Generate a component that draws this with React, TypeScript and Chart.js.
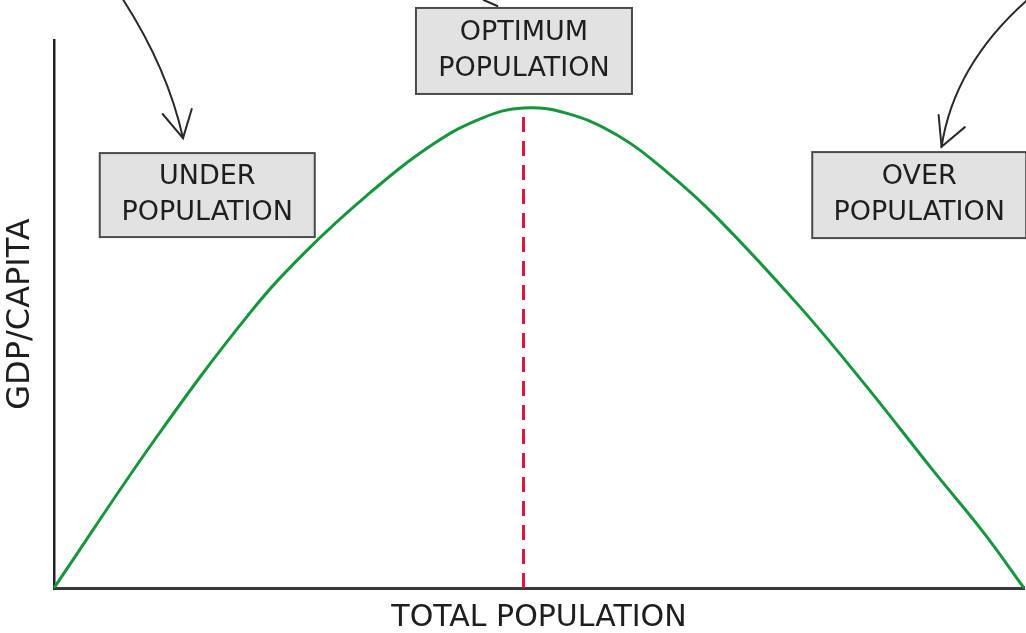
import React, { useEffect, useRef } from 'react';
import { Chart, registerables } from 'chart.js';

Chart.register(...registerables);

// Curve (x: total population, y: GDP per capita), 0-100 units
const popX = [0, 10.6, 20.2, 25.9, 32.3, 39.1, 44.2, 48.4, 52.9, 58.0, 63.2, 68.4, 76.9, 83.8, 90.6, 95.8, 100];
const gdpY = [0, 27.6, 50.2, 61.3, 71.7, 81.0, 85.8, 87.6, 86.6, 82.7, 75.9, 67.5, 51.3, 36.7, 21.5, 10.2, 0];

// Optimum marker
const optimumX = [48.4, 48.4];
const optimumY = [0, 87.6];

// Labels
const xTitle = 'TOTAL POPULATION';
const yTitle = 'GDP/CAPITA';
const boxLabels = [
  ['UNDER', 'POPULATION'],
  ['OPTIMUM', 'POPULATION'],
  ['OVER', 'POPULATION'],
];
// box centres in data units
const boxCX = [15.8, 48.45, 89.2];
const boxCY = [71.7, 98.0, 71.7];

const FONT = '"DejaVu Sans", sans-serif';

const annotationPlugin = {
  id: 'annotations',
  afterDraw(chart: any) {
    const ctx = chart.ctx as CanvasRenderingContext2D;
    const xs = chart.scales.x;
    const ys = chart.scales.y;
    const X = (v: number) => xs.getPixelForValue(v);
    const Y = (v: number) => ys.getPixelForValue(v);
    ctx.save();

    // boxes
    const bw = [215, 216, 214];
    const bh = [84, 86, 86];
    for (let i = 0; i < boxLabels.length; i++) {
      const cx = X(boxCX[i]);
      const cy = Y(boxCY[i]);
      ctx.fillStyle = '#e2e2e2';
      ctx.strokeStyle = '#4a4a4a';
      ctx.lineWidth = 2;
      ctx.fillRect(cx - bw[i] / 2, cy - bh[i] / 2, bw[i], bh[i]);
      ctx.strokeRect(cx - bw[i] / 2, cy - bh[i] / 2, bw[i], bh[i]);
      ctx.fillStyle = '#1e1e1e';
      ctx.font = `27px ${FONT}`;
      ctx.textAlign = 'center';
      ctx.textBaseline = 'middle';
      ctx.fillText(boxLabels[i][0], cx, cy - 18);
      ctx.fillText(boxLabels[i][1], cx, cy + 18);
    }

    // arrows
    ctx.strokeStyle = '#2a2a2a';
    ctx.lineWidth = 2;
    ctx.lineCap = 'round';
    const arrows = [
      { p0: [7.0, 107.7], c: [11.7, 94.9], p2: [13.3, 82.1], a1: [11.2, 86.5], a2: [14.2, 87.4] },
      { p0: [100.6, 107.7], c: [92.8, 95.7], p2: [91.5, 80.5], a1: [91.2, 86.3], a2: [93.9, 84.1] },
    ];
    for (const a of arrows) {
      ctx.beginPath();
      ctx.moveTo(X(a.p0[0]), Y(a.p0[1]));
      ctx.quadraticCurveTo(X(a.c[0]), Y(a.c[1]), X(a.p2[0]), Y(a.p2[1]));
      ctx.stroke();
      ctx.beginPath();
      ctx.moveTo(X(a.a1[0]), Y(a.a1[1]));
      ctx.lineTo(X(a.p2[0]), Y(a.p2[1]));
      ctx.lineTo(X(a.a2[0]), Y(a.a2[1]));
      ctx.stroke();
    }
    ctx.beginPath();
    ctx.moveTo(X(44.3), Y(107.3));
    ctx.lineTo(X(45.7), Y(106.2));
    ctx.stroke();

    ctx.restore();
  },
};

export default function App() {
  const ref = useRef<HTMLCanvasElement | null>(null);
  useEffect(() => {
    if (!ref.current) return;
    const chart = new Chart(ref.current, {
      type: 'line',
      data: {
        datasets: [
          {
            data: popX.map((x, i) => ({ x, y: gdpY[i] })),
            borderColor: '#16963c',
            borderWidth: 3,
            pointRadius: 0,
            tension: 0.4,
            fill: false,
            clip: false as any,
          },
          {
            data: optimumX.map((x, i) => ({ x, y: optimumY[i] })),
            borderColor: '#d8173f',
            borderWidth: 3,
            borderDash: [15, 9],
            pointRadius: 0,
            fill: false,
          },
        ],
      },
      options: {
        animation: false,
        responsive: false,
        maintainAspectRatio: false,
        layout: { padding: { top: 40, right: 2, left: 0, bottom: 0 } },
        plugins: { legend: { display: false }, tooltip: { enabled: false } },
        scales: {
          x: {
            type: 'linear',
            min: 0,
            max: 100,
            grid: { display: false },
            ticks: { display: false },
            border: { display: true, color: '#3a3a3a', width: 3 },
            title: {
              display: true,
              text: xTitle,
              color: '#1e1e1e',
              font: { family: FONT, size: 30, lineHeight: 1 },
              padding: { top: 0, bottom: 0 },
            },
            afterFit: (s: any) => { s.height = 45; },
          },
          y: {
            type: 'linear',
            min: 0,
            max: 100,
            grid: { display: false },
            ticks: { display: false },
            border: { display: true, color: '#222222', width: 2.5 },
            title: {
              display: true,
              text: yTitle,
              color: '#1e1e1e',
              font: { family: FONT, size: 32, lineHeight: 1 },
              padding: { top: 5, bottom: 0 },
            },
            afterFit: (s: any) => { s.width = 54; },
          },
        },
      },
      plugins: [annotationPlugin],
    });
    return () => chart.destroy();
  }, []);
  return (
    <div style={{ position: 'absolute', left: 0, top: 0, width: 1026, height: 633, background: '#fff' }}>
      <canvas ref={ref} width={1026} height={633} />
    </div>
  );
}
